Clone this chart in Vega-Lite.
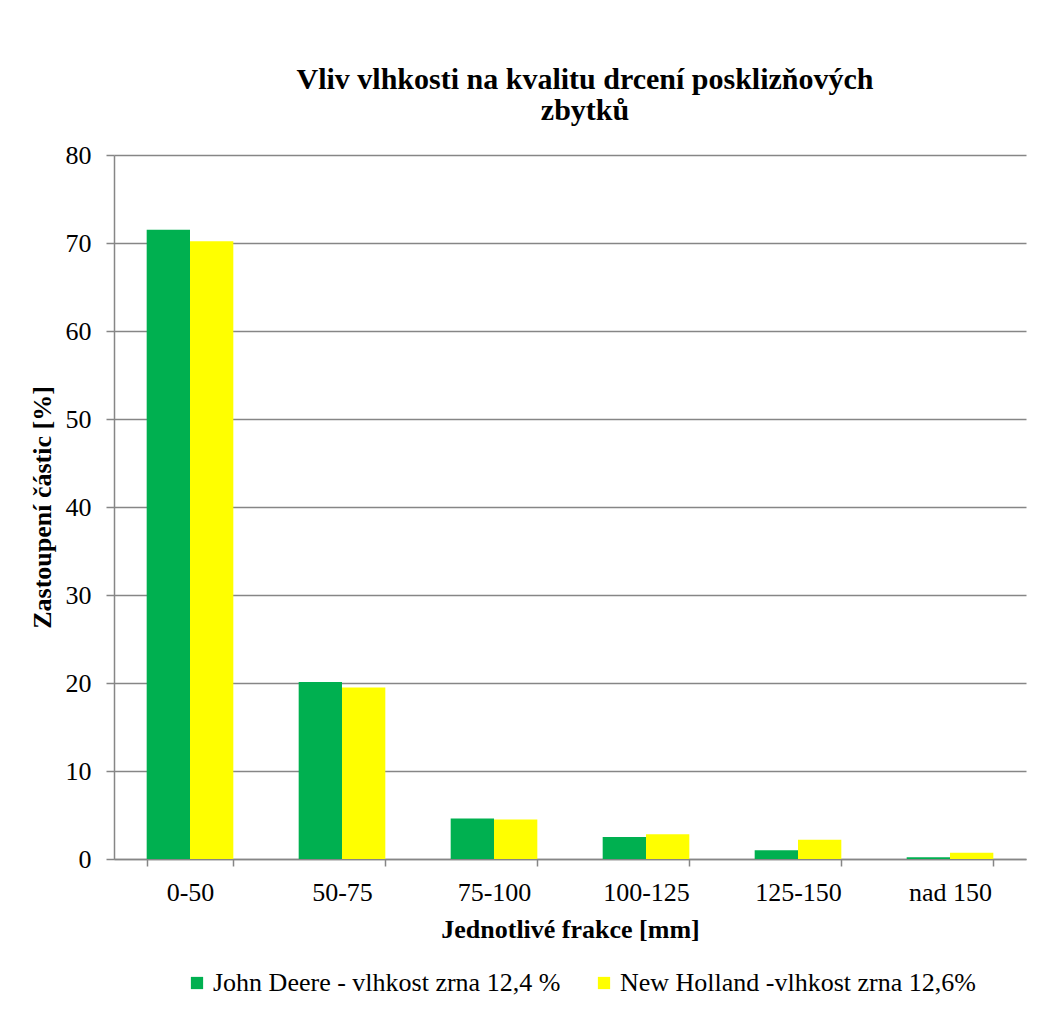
{
  "$schema": "https://vega.github.io/schema/vega-lite/v6.json",
  "autosize": {"type": "none"},
  "padding": {"left": 114, "top": 155, "right": 22, "bottom": 176},
  "width": 912,
  "height": 704,
  "background": "white",
  "title": {
    "text": ["Vliv vlhkosti na kvalitu drcení posklizňových", "zbytků"],
    "font": "Liberation Serif",
    "fontSize": 30,
    "fontWeight": "bold",
    "color": "black",
    "anchor": "middle",
    "dx": 15,
    "lineHeight": 31,
    "offset": 16
  },
  "data": {
    "values": [
      {"frakce": "0-50", "serie": "John Deere - vlhkost zrna 12,4 %", "podil": 71.5},
      {"frakce": "0-50", "serie": "New Holland -vlhkost zrna 12,6%", "podil": 70.2},
      {"frakce": "50-75", "serie": "John Deere - vlhkost zrna 12,4 %", "podil": 20.1},
      {"frakce": "50-75", "serie": "New Holland -vlhkost zrna 12,6%", "podil": 19.5},
      {"frakce": "75-100", "serie": "John Deere - vlhkost zrna 12,4 %", "podil": 4.6},
      {"frakce": "75-100", "serie": "New Holland -vlhkost zrna 12,6%", "podil": 4.5},
      {"frakce": "100-125", "serie": "John Deere - vlhkost zrna 12,4 %", "podil": 2.5},
      {"frakce": "100-125", "serie": "New Holland -vlhkost zrna 12,6%", "podil": 2.8},
      {"frakce": "125-150", "serie": "John Deere - vlhkost zrna 12,4 %", "podil": 1.0},
      {"frakce": "125-150", "serie": "New Holland -vlhkost zrna 12,6%", "podil": 2.2},
      {"frakce": "nad 150", "serie": "John Deere - vlhkost zrna 12,4 %", "podil": 0.2},
      {"frakce": "nad 150", "serie": "New Holland -vlhkost zrna 12,6%", "podil": 0.7}
    ]
  },
  "mark": {"type": "bar"},
  "encoding": {
    "x": {
      "field": "frakce",
      "type": "nominal",
      "sort": null,
      "scale": {"paddingInner": 0.43, "paddingOuter": 0.215},
      "axis": {
        "title": "Jednotlivé frakce [mm]",
        "labelAngle": 0,
        "tickBand": "extent",
        "tickSize": 7,
        "labelPadding": 13,
        "titlePadding": 11
      }
    },
    "xOffset": {
      "field": "serie",
      "type": "nominal",
      "scale": {"paddingInner": 0, "paddingOuter": 0}
    },
    "y": {
      "field": "podil",
      "type": "quantitative",
      "scale": {"domain": [0, 80], "nice": false},
      "axis": {
        "title": "Zastoupení částic [%]",
        "values": [0, 10, 20, 30, 40, 50, 60, 70, 80],
        "tickSize": 8,
        "labelPadding": 15,
        "titlePadding": 10,
        "grid": true
      }
    },
    "color": {
      "field": "serie",
      "type": "nominal",
      "scale": {
        "domain": ["John Deere - vlhkost zrna 12,4 %", "New Holland -vlhkost zrna 12,6%"],
        "range": ["#00B050", "#FFFF00"]
      },
      "legend": {
        "title": null,
        "orient": "none",
        "legendX": 70,
        "legendY": 815,
        "direction": "horizontal",
        "symbolType": "square",
        "symbolSize": 150,
        "symbolStrokeWidth": 0,
        "labelFont": "Liberation Serif",
        "labelFontSize": 26,
        "labelColor": "black",
        "labelLimit": 500,
        "columnPadding": 30,
        "labelOffset": 3
      }
    }
  },
  "config": {
    "font": "Liberation Serif",
    "view": {"stroke": null},
    "title": {"font": "Liberation Serif"},
    "legend": {"labelFont": "Liberation Serif"},
    "axis": {
      "labelFont": "Liberation Serif",
      "labelFontSize": 26,
      "labelColor": "black",
      "titleFont": "Liberation Serif",
      "titleFontSize": 26,
      "titleFontWeight": "bold",
      "titleColor": "black",
      "domainColor": "#868686",
      "domainWidth": 1.5,
      "tickColor": "#868686",
      "tickWidth": 1.5,
      "gridColor": "#868686",
      "gridWidth": 1.5
    },
    "axisX": {"grid": false}
  }
}
